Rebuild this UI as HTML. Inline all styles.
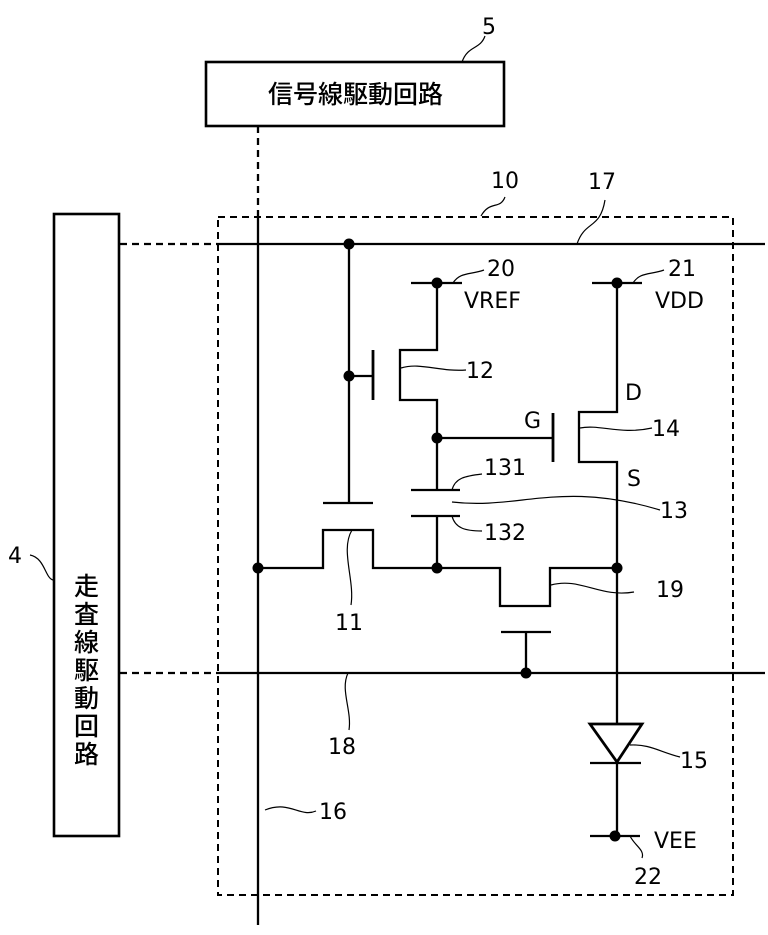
<!DOCTYPE html>
<html><head><meta charset="utf-8"><style>
html,body{margin:0;padding:0;background:#fff;}
svg{display:block;}
text{font-family:"DejaVu Sans","Liberation Sans",sans-serif;font-size:22px;fill:#000;}
.j{font-family:"Liberation Sans","Noto Sans CJK JP",sans-serif;font-size:25px;font-weight:500;}
</style></head><body>
<svg width="768" height="935" viewBox="0 0 768 935" xmlns="http://www.w3.org/2000/svg">
<g stroke="#000" fill="none" stroke-width="2.3">
<rect x="206" y="62" width="298" height="64" stroke-width="2.6"/>
<rect x="54" y="214" width="65" height="622" stroke-width="2.6"/>
<rect x="218" y="217" width="515" height="678" stroke-dasharray="7,5" stroke-width="2"/>
<line x1="258" y1="126" x2="258" y2="215" stroke-dasharray="7,5"/>
<line x1="120" y1="244" x2="218" y2="244" stroke-dasharray="7,5"/>
<line x1="120" y1="673" x2="218" y2="673" stroke-dasharray="7,5"/>
<line x1="258" y1="215" x2="258" y2="925"/>
<line x1="218" y1="244" x2="765" y2="244"/>
<line x1="218" y1="673" x2="765" y2="673"/>
<line x1="349" y1="244" x2="349" y2="503"/>
<line x1="323" y1="503" x2="373" y2="503"/>
<line x1="349" y1="376" x2="373" y2="376"/>
<line x1="373" y1="350" x2="373" y2="400" stroke-width="2.8"/>
<polyline points="437,283 437,350 400,350 400,400 437,400 437,490"/>
<line x1="411" y1="283" x2="462" y2="283"/>
<line x1="411" y1="490" x2="460" y2="490"/>
<line x1="411" y1="516" x2="460" y2="516"/>
<line x1="437" y1="516" x2="437" y2="568"/>
<line x1="437" y1="438" x2="553" y2="438"/>
<line x1="553" y1="413" x2="553" y2="462" stroke-width="2.8"/>
<polyline points="617,283 617,412 579,412 579,462 617,462 617,832"/>
<line x1="592" y1="283" x2="642" y2="283"/>
<polyline points="258,568 323,568 323,530 373,530 373,568 500,568 500,606 550,606 550,568 617,568"/>
<line x1="501" y1="632" x2="551" y2="632"/>
<line x1="526" y1="632" x2="526" y2="673"/>
<polygon points="590,724 642,724 617,762" stroke-width="2.8" fill="#fff"/>
<line x1="590" y1="763" x2="641" y2="763"/>
<line x1="590" y1="836" x2="640" y2="836"/>
<g stroke-width="1.2">
<path d="M462,62 C468,45 480,50 485,36"/>
<path d="M481,216 C490,200 500,210 505,197"/>
<path d="M577,244 C585,220 600,230 605,200"/>
<path d="M453,283 C460,272 470,275 484,270"/>
<path d="M633,283 C640,272 650,275 664,270"/>
<path d="M401,368 C420,362 440,372 466,370"/>
<path d="M580,428 C600,424 620,435 652,428"/>
<path d="M452,490 C455,478 465,476 482,474"/>
<path d="M452,502 C520,510 560,480 660,510"/>
<path d="M452,516 C455,528 465,531 482,531"/>
<path d="M352,530 C340,550 355,580 351,605"/>
<path d="M551,585 C580,577 600,598 634,592"/>
<path d="M348,673 C340,690 352,710 349,730"/>
<path d="M630,745 C650,744 660,752 680,757"/>
<path d="M265,810 C290,800 300,818 316,811"/>
<path d="M630,836 C635,846 645,850 642,858"/>
<path d="M30,555 C45,558 45,578 53,580"/>
</g>
</g>
<g fill="#000">
<circle cx="349" cy="244" r="5.5"/><circle cx="349" cy="376" r="5.5"/>
<circle cx="437" cy="283" r="5.5"/><circle cx="617" cy="283" r="5.5"/>
<circle cx="437" cy="438" r="5.5"/><circle cx="258" cy="568" r="5.5"/>
<circle cx="437" cy="568" r="5.5"/><circle cx="617" cy="568" r="5.5"/>
<circle cx="526" cy="673" r="5.5"/><circle cx="615" cy="836" r="5.5"/>
</g>
<text class="j" x="268" y="103">信号線駆動回路</text>
<text class="j" x="74" y="595">走</text><text class="j" x="74" y="623">査</text>
<text class="j" x="74" y="651">線</text><text class="j" x="74" y="679">駆</text>
<text class="j" x="74" y="707">動</text><text class="j" x="74" y="735">回</text>
<text class="j" x="74" y="763">路</text>
<text x="482" y="34">5</text>
<text x="491" y="188">10</text>
<text x="588" y="189">17</text>
<text x="487" y="276">20</text>
<text x="464" y="308">VREF</text>
<text x="668" y="276">21</text>
<text x="655" y="308">VDD</text>
<text x="466" y="378">12</text>
<text x="625" y="400">D</text>
<text x="524" y="428">G</text>
<text x="652" y="436">14</text>
<text x="484" y="475">131</text>
<text x="627" y="486">S</text>
<text x="660" y="518">13</text>
<text x="484" y="540">132</text>
<text x="656" y="597">19</text>
<text x="335" y="630">11</text>
<text x="328" y="754">18</text>
<text x="680" y="768">15</text>
<text x="319" y="819">16</text>
<text x="654" y="848">VEE</text>
<text x="634" y="884">22</text>
<text x="8" y="563">4</text>
</svg>
</body></html>
